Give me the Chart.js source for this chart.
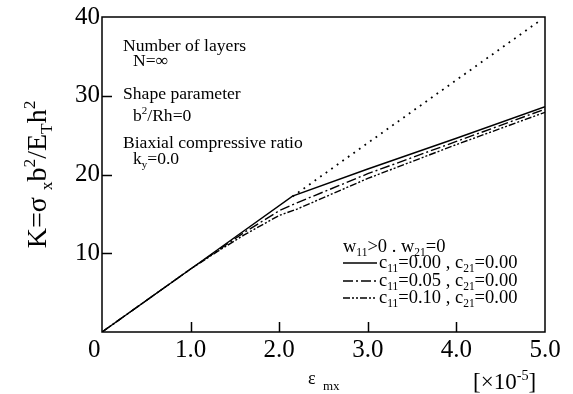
<!DOCTYPE html>
<html>
<head>
<meta charset="utf-8">
<script src="https://cdn.jsdelivr.net/npm/chart.js@4/dist/chart.umd.min.js"></script>
<style>
  html, body { margin: 0; padding: 0; background: #fff; }
</style>
</head>
<body>
<canvas id="bucklingChart" width="573" height="394"></canvas>
<script>
// Axis ticks
const strainTicks = [0, 1, 2, 3, 4, 5];
const kTicks = [0, 10, 20, 30, 40];

// c11=0.00 , c21=0.00 (solid)
const solidStrain = [0, 1.0, 2.15, 3.0, 4.0, 5.0];
const solidK = [0, 8.0, 17.25, 20.7, 24.6, 28.6];

// c11=0.05 , c21=0.00 (dash-dot)
const dashDotStrain = [0, 1.0, 1.3, 1.6, 2.0, 2.2, 3.0, 4.0, 5.0];
const dashDotK = [0, 8.0, 10.3, 12.6, 15.4, 16.4, 20.1, 24.2, 28.3];

// c11=0.10 , c21=0.00 (dash-dot-dot)
const dashDotDotStrain = [0, 1.0, 1.3, 1.6, 2.0, 2.2, 3.0, 4.0, 5.0];
const dashDotDotK = [0, 8.0, 10.2, 12.3, 14.8, 15.6, 19.5, 23.8, 27.9];

// linear (dotted) continuation
const linearStrain = [2.15, 4.95];
const linearK = [17.2, 39.6];

const SERIF = '"Liberation Serif", "DejaVu Serif", serif';

function toPoints(xs, ys) {
    return xs.map((x, i) => ({ x: x, y: ys[i] }));
}

// draw text made of normal / sub / sup pieces, returns width
function drawRich(ctx, x, y, parts, size, measureOnly) {
    let cx = x;
    parts.forEach(([txt, kind]) => {
        const fs = kind ? size * 0.62 : size;
        const dy = kind === 'sub' ? size * 0.22 : kind === 'sup' ? -size * 0.4 : 0;
        ctx.font = fs + 'px ' + SERIF;
        if (!measureOnly) ctx.fillText(txt, cx, y + dy);
        cx += ctx.measureText(txt).width;
    });
    return cx - x;
}

const legendRows = [
    { dash: [], parts: [['c', ''], ['11', 'sub'], ['=0.00 , c', ''], ['21', 'sub'], ['=0.00', '']] },
    { dash: [10, 3, 2, 3], parts: [['c', ''], ['11', 'sub'], ['=0.05 , c', ''], ['21', 'sub'], ['=0.00', '']] },
    { dash: [7, 2, 2, 2, 2, 2], parts: [['c', ''], ['11', 'sub'], ['=0.10 , c', ''], ['21', 'sub'], ['=0.00', '']] }
];

const decorPlugin = {
    id: 'decor',
    afterDatasetsDraw(chart) {
        const ctx = chart.ctx;
        const { left, right, top, bottom } = chart.chartArea;
        const xs = chart.scales.x, ys = chart.scales.y;
        ctx.save();
        ctx.strokeStyle = '#000';
        ctx.fillStyle = '#000';
        ctx.lineWidth = 1.5;
        ctx.strokeRect(left, top, right - left, bottom - top);

        // inward tick marks
        ctx.beginPath();
        strainTicks.slice(1, -1).forEach(v => {
            const px = Math.round(xs.getPixelForValue(v)) + 0.5;
            ctx.moveTo(px, bottom);
            ctx.lineTo(px, bottom - 10);
        });
        kTicks.slice(1, -1).forEach(v => {
            const py = Math.round(ys.getPixelForValue(v)) + 0.5;
            ctx.moveTo(left, py);
            ctx.lineTo(left + 10, py);
        });
        ctx.stroke();

        ctx.textBaseline = 'alphabetic';
        ctx.textAlign = 'left';

        // corner zero
        ctx.font = '25px ' + SERIF;
        ctx.fillText('0', 88, 357);

        // parameter notes
        const noteSize = 17.6;
        drawRich(ctx, 123, 51, [['Number of layers', '']], noteSize);
        drawRich(ctx, 133, 66, [['N=\u221E', '']], noteSize);
        drawRich(ctx, 123, 99, [['Shape parameter', '']], noteSize);
        drawRich(ctx, 133, 121, [['b', ''], ['2', 'sup'], ['/Rh=0', '']], noteSize);
        drawRich(ctx, 123, 148, [['Biaxial compressive ratio', '']], noteSize);
        drawRich(ctx, 133, 164, [['k', ''], ['y', 'sub'], ['=0.0', '']], noteSize);

        // legend
        const legSize = 18.5;
        drawRich(ctx, 343, 252, [['w', ''], ['11', 'sub'], ['>0 . w', ''], ['21', 'sub'], ['=0', '']], legSize);
        const rowY = [263, 281, 298];
        legendRows.forEach((row, i) => {
            ctx.beginPath();
            ctx.setLineDash(row.dash);
            ctx.lineWidth = 1.3;
            ctx.moveTo(343, rowY[i]);
            ctx.lineTo(377, rowY[i]);
            ctx.stroke();
            ctx.setLineDash([]);
            drawRich(ctx, 379, rowY[i] + 5, row.parts, legSize);
        });

        // x axis title
        drawRich(ctx, 308, 384, [['\u03B5', '']], 18);
        drawRich(ctx, 323, 390, [['mx', '']], 13);
        drawRich(ctx, 473, 389, [['[\u00D710', ''], ['-5', 'sup'], [']', '']], 23);

        // y axis title (rotated)
        const yTitle = [['K=\u03C3 ', ''], ['x', 'sub'], ['b', ''], ['2', 'sup'], ['/E', ''], ['T', 'sub'], ['h', ''], ['2', 'sup']];
        const tw = drawRich(ctx, 0, 0, yTitle, 28, true);
        ctx.translate(46, (top + bottom) / 2 + tw / 2);
        ctx.rotate(-Math.PI / 2);
        drawRich(ctx, 0, 0, yTitle, 28);
        ctx.restore();
    }
};

const lineStyle = {
    borderColor: '#000',
    borderWidth: 1.4,
    pointRadius: 0,
    tension: 0,
    fill: false
};

new Chart(document.getElementById('bucklingChart'), {
    type: 'line',
    data: {
        datasets: [
            { ...lineStyle, label: 'linear', data: toPoints(linearStrain, linearK), borderDash: [1.8, 5], borderWidth: 1.8 },
            { ...lineStyle, label: 'c11=0.10', data: toPoints(dashDotDotStrain, dashDotDotK), borderDash: [7, 2, 2, 2, 2, 2] },
            { ...lineStyle, label: 'c11=0.05', data: toPoints(dashDotStrain, dashDotK), borderDash: [10, 3, 2, 3] },
            { ...lineStyle, label: 'c11=0.00', data: toPoints(solidStrain, solidK) }
        ]
    },
    options: {
        responsive: false,
        animation: false,
        layout: { padding: { top: 16, right: 28, left: 0, bottom: 0 } },
        plugins: {
            legend: { display: false },
            tooltip: { enabled: false }
        },
        scales: {
            x: {
                type: 'linear',
                min: 0,
                max: 5,
                afterBuildTicks: s => { s.ticks = strainTicks.map(v => ({ value: v })); },
                afterFit: s => { s.height = 62; },
                grid: { display: false, drawTicks: false },
                border: { display: false },
                ticks: {
                    autoSkip: false,
                    maxRotation: 0,
                    padding: 3,
                    color: '#000',
                    font: { family: SERIF, size: 25 },
                    callback: v => v === 0 ? '' : v.toFixed(1)
                }
            },
            y: {
                type: 'linear',
                min: 0,
                max: 40,
                afterBuildTicks: s => { s.ticks = kTicks.map(v => ({ value: v })); },
                afterFit: s => { s.width = 102; },
                grid: { display: false, drawTicks: false },
                border: { display: false },
                ticks: {
                    padding: 2,
                    color: '#000',
                    font: { family: SERIF, size: 25 },
                    callback: v => v === 0 ? '' : String(v)
                }
            }
        }
    },
    plugins: [decorPlugin]
});
</script>
</body>
</html>
